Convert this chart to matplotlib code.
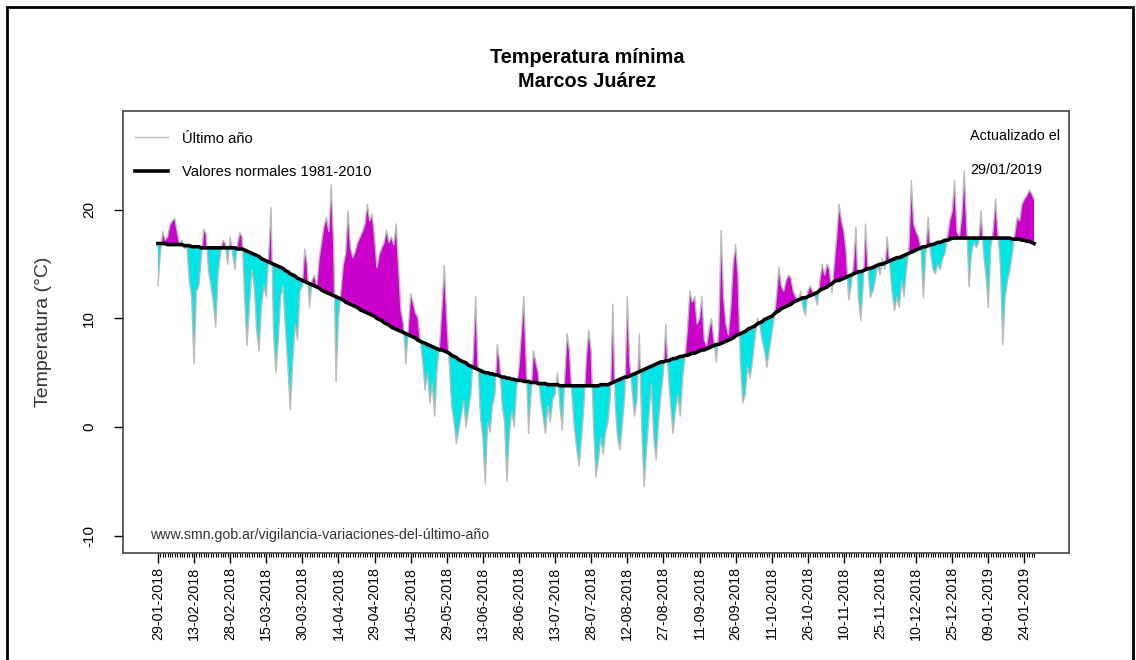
import numpy as np
import pandas as pd
import matplotlib
matplotlib.use('Agg')
import matplotlib.pyplot as plt
from matplotlib.patches import Rectangle

# Temperatura minima diaria, Marcos Juarez, 29-01-2018 a 28-01-2019
start_date = '2018-01-29'
n_days = 365

tmin_last_year = [
    13.0, 16.0, 18.0, 17.2, 17.5, 18.6, 19.0, 19.2, 18.0, 16.8, 17.2, 16.4, 16.8, 13.5, 12.0,
    5.8, 12.5, 13.0, 15.5, 18.2, 17.8, 14.5, 13.0, 11.5, 9.2, 14.0, 16.0, 17.2, 16.9, 15.0,
    17.5, 16.0, 14.5, 16.8, 17.9, 17.5, 12.0, 7.5, 11.0, 14.5, 13.0, 9.0, 7.0, 11.0, 13.0,
    12.0, 15.8, 20.2, 9.0, 5.0, 8.0, 12.0, 13.0, 9.0, 5.5, 1.6, 6.0, 9.5, 8.0, 12.5,
    13.0, 16.4, 15.0, 11.0, 13.5, 14.0, 13.0, 15.5, 17.0, 18.5, 19.3, 18.0, 22.3, 17.0, 4.2,
    10.0, 12.5, 14.9, 16.0, 19.9, 16.5, 15.6, 16.2, 17.0, 17.5, 18.0, 18.7, 20.5, 19.0, 19.6,
    17.5, 14.7, 15.9, 16.5, 17.0, 18.1, 17.0, 17.5, 16.8, 18.7, 14.7, 10.7, 9.5, 5.8, 9.0,
    12.3, 11.5, 10.5, 10.1, 8.0, 6.0, 3.4, 5.0, 2.2, 4.0, 1.0, 5.5, 7.5, 11.0, 14.9,
    10.0, 6.0, 2.0, 0.5, -1.5, -0.3, 1.0, 2.5, 0.0, 1.5, 3.0, 6.5, 12.0, 5.5, 1.0,
    -1.0, -5.2, 0.5, -0.5, 2.0, 3.0, 7.6, 6.0, 2.0, 0.5, -5.0, -0.6, 1.5, 0.0, 3.5,
    5.5, 8.6, 12.0, 6.0, -0.6, 3.0, 7.0, 6.0, 5.0, 2.5, 1.0, -0.6, 2.0, 0.5, 2.5,
    3.0, 5.0, 2.0, -0.3, 4.5, 8.6, 7.0, 3.0, 0.0, -2.0, -3.6, -1.0, 2.0, 6.5, 8.9,
    7.0, 0.0, -4.6, -3.0, -1.0, -2.5, -0.5, 0.5, 3.0, 11.3, 2.0, -1.0, -2.1, 0.5, 3.0,
    12.0, 6.0, 3.5, 1.0, 2.5, 8.6, 0.0, -5.5, -2.0, 1.0, 4.0, -1.0, -3.0, 0.5, 3.0,
    5.0, 9.5, 5.0, 2.0, -0.6, 1.5, 3.0, 1.0, 4.5, 6.5, 9.0, 12.5, 11.5, 12.0, 9.5,
    10.0, 12.0, 8.0, 7.5, 9.0, 10.0, 8.0, 6.0, 9.0, 18.1, 12.0, 9.5, 8.5, 11.0, 15.0,
    16.8, 14.0, 6.0, 2.2, 3.0, 5.5, 4.5, 6.0, 8.0, 10.0, 9.5, 8.0, 7.1, 5.5, 7.0,
    8.5, 10.0, 12.0, 14.7, 13.0, 12.5, 13.5, 14.0, 13.7, 12.5, 12.0, 11.5, 12.5, 11.0, 10.3,
    12.5, 13.0, 12.5, 12.0, 11.2, 13.5, 15.0, 14.0, 15.0, 14.5, 12.3, 15.0, 17.5, 20.5, 19.0,
    18.0, 16.0, 11.7, 13.0, 15.0, 18.4, 12.0, 9.8, 13.0, 18.7, 14.5, 11.9, 12.5, 13.5, 15.0,
    14.0, 15.5, 14.5, 17.5, 15.0, 12.5, 10.7, 12.0, 11.0, 13.5, 12.0, 14.5, 16.5, 22.7, 18.7,
    18.0, 17.5, 16.5, 11.9, 16.0, 19.3, 16.0, 14.5, 14.1, 15.0, 14.5, 15.5, 16.0, 17.5, 19.0,
    19.9, 22.7, 18.0, 17.5, 19.5, 23.6, 18.5, 12.9, 16.0, 17.0, 16.5, 17.0, 19.9, 16.0, 14.0,
    11.0, 16.5, 18.1, 21.0, 17.8, 15.0, 7.6, 12.0, 13.5, 14.5, 16.0, 17.8, 19.3, 19.0, 20.5,
    21.0, 21.3, 21.8, 21.5, 21.0,
]

# Valores normales 1981-2010 para los mismos dias
tmin_normal = [
    16.9, 16.9, 16.9, 16.9, 16.8, 16.8, 16.8, 16.8, 16.8, 16.8, 16.8, 16.7, 16.7, 16.7, 16.6,
    16.6, 16.6, 16.6, 16.5, 16.5, 16.5, 16.5, 16.5, 16.5, 16.5, 16.5, 16.5, 16.5, 16.5, 16.5,
    16.5, 16.5, 16.5, 16.4, 16.4, 16.4, 16.3, 16.2, 16.1, 16.0, 15.9, 15.8, 15.7, 15.5, 15.4,
    15.3, 15.2, 15.1, 15.0, 14.9, 14.8, 14.7, 14.6, 14.4, 14.3, 14.1, 14.0, 13.9, 13.7, 13.6,
    13.5, 13.4, 13.3, 13.2, 13.1, 13.0, 12.9, 12.8, 12.6, 12.5, 12.4, 12.3, 12.2, 12.1, 12.0,
    11.9, 11.8, 11.7, 11.5, 11.4, 11.3, 11.2, 11.1, 11.0, 10.8, 10.7, 10.6, 10.5, 10.4, 10.3,
    10.2, 10.0, 9.9, 9.8, 9.6, 9.5, 9.4, 9.2, 9.1, 9.0, 8.9, 8.8, 8.7, 8.6, 8.5,
    8.4, 8.3, 8.2, 8.0, 7.9, 7.8, 7.7, 7.6, 7.5, 7.4, 7.3, 7.2, 7.1, 7.1, 7.0,
    6.9, 6.8, 6.6, 6.5, 6.4, 6.2, 6.1, 6.0, 5.9, 5.7, 5.6, 5.5, 5.4, 5.3, 5.2,
    5.1, 5.0, 5.0, 4.9, 4.9, 4.8, 4.8, 4.7, 4.6, 4.6, 4.5, 4.5, 4.4, 4.4, 4.3,
    4.3, 4.3, 4.2, 4.2, 4.2, 4.1, 4.1, 4.1, 4.0, 4.0, 4.0, 4.0, 3.9, 3.9, 3.9,
    3.9, 3.9, 3.8, 3.8, 3.8, 3.8, 3.8, 3.8, 3.8, 3.8, 3.8, 3.8, 3.8, 3.8, 3.8,
    3.8, 3.8, 3.8, 3.8, 3.9, 3.9, 3.9, 3.9, 4.0, 4.1, 4.2, 4.3, 4.4, 4.5, 4.6,
    4.6, 4.7, 4.8, 4.9, 5.0, 5.1, 5.2, 5.3, 5.4, 5.5, 5.6, 5.7, 5.8, 5.9, 6.0,
    6.0, 6.1, 6.1, 6.2, 6.3, 6.3, 6.4, 6.5, 6.5, 6.6, 6.6, 6.7, 6.8, 6.8, 6.9,
    7.0, 7.1, 7.1, 7.2, 7.3, 7.4, 7.5, 7.6, 7.6, 7.7, 7.8, 7.9, 8.0, 8.1, 8.2,
    8.4, 8.5, 8.6, 8.7, 8.8, 9.0, 9.1, 9.2, 9.3, 9.5, 9.6, 9.7, 9.9, 10.0, 10.1,
    10.2, 10.4, 10.6, 10.7, 10.9, 11.0, 11.1, 11.2, 11.3, 11.5, 11.6, 11.7, 11.8, 11.9, 11.9,
    12.0, 12.1, 12.2, 12.3, 12.4, 12.6, 12.7, 12.8, 12.9, 13.1, 13.2, 13.4, 13.5, 13.5, 13.6,
    13.7, 13.8, 13.9, 14.0, 14.1, 14.2, 14.3, 14.3, 14.4, 14.5, 14.6, 14.6, 14.7, 14.8, 14.9,
    15.0, 15.0, 15.1, 15.2, 15.3, 15.4, 15.5, 15.6, 15.6, 15.7, 15.8, 15.9, 16.0, 16.1, 16.2,
    16.3, 16.4, 16.5, 16.6, 16.6, 16.7, 16.8, 16.8, 16.9, 17.0, 17.0, 17.1, 17.2, 17.2, 17.3,
    17.4, 17.4, 17.4, 17.4, 17.4, 17.4, 17.4, 17.4, 17.4, 17.4, 17.4, 17.4, 17.4, 17.4, 17.4,
    17.4, 17.4, 17.4, 17.4, 17.4, 17.4, 17.4, 17.4, 17.4, 17.4, 17.3, 17.3, 17.3, 17.3, 17.2,
    17.2, 17.1, 17.1, 17.0, 16.9,
]

label_every = 15
y_ticks = [-10, 0, 10, 20]

title_lines = ['Temperatura mínima', 'Marcos Juárez']
legend_labels = ['Último año', 'Valores normales 1981-2010']
updated_text = ['Actualizado el', '29/01/2019']
source_text = 'www.smn.gob.ar/vigilancia-variaciones-del-último-año'

plt.rcParams['font.family'] = ['Liberation Sans', 'DejaVu Sans']

dates = pd.date_range(start_date, periods=n_days, freq='D')
x = np.arange(n_days)
obs = np.array(tmin_last_year)
nor = np.array(tmin_normal)

fig = plt.figure(figsize=(11.36, 6.6), dpi=100)
ax = fig.add_axes([0.1083, 0.1621, 0.8327, 0.6697])

# anomalias: arriba de lo normal en magenta, abajo en cian
ax.fill_between(x, obs, nor, where=obs >= nor, interpolate=True,
                color='#cc00cc', linewidth=0)
ax.fill_between(x, obs, nor, where=obs < nor, interpolate=True,
                color='#00e5e5', linewidth=0)
l1, = ax.plot(x, obs, color='#bbbbbb', lw=1.0)
l2, = ax.plot(x, nor, color='black', lw=2.6)

ax.set_xlim(-14.5, 378.5)
ax.set_ylim(-11.6, 29.1)

major = x[::label_every]
ax.set_xticks(major)
ax.set_xticklabels([d.strftime('%d-%m-%Y') for d in dates[::label_every]],
                   rotation=90, fontsize=10.3)
ax.set_xticks(x, minor=True)
ax.tick_params(axis='x', which='major', length=7.5, width=1, pad=2.5)
ax.tick_params(axis='x', which='minor', length=3, width=0.8)

ax.set_yticks(y_ticks)
ax.set_yticklabels([str(v) for v in y_ticks], rotation=90, va='center', fontsize=11)
ax.tick_params(axis='y', length=6.5, width=1, pad=13)
ax.set_ylabel('Temperatura (°C)', fontsize=14, color='#333333')
ax.yaxis.set_label_coords(-0.075, 0.5)

for s in ax.spines.values():
    s.set_linewidth(1.2)
    s.set_color('#444444')

ax.legend([l1, l2], legend_labels, loc='upper left', frameon=False,
          bbox_to_anchor=(0.0127, 0.9536), borderaxespad=0, borderpad=0,
          fontsize=10.6, handlelength=2.25, labelspacing=1.3,
          handletextpad=0.95)

ax.text(0.8953, 0.9434, updated_text[0], transform=ax.transAxes, fontsize=10.4, va='center')
ax.text(0.8953, 0.8665, updated_text[1], transform=ax.transAxes, fontsize=10.4, va='center')
ax.text(0.0285, 0.0407, source_text, transform=ax.transAxes, fontsize=10.2, va='center',
        color='#333333')

fig.text(0.517, 0.9136, title_lines[0], ha='center', va='center',
         fontsize=14.3, fontweight='bold')
fig.text(0.517, 0.8758, title_lines[1], ha='center', va='center',
         fontsize=14.3, fontweight='bold')

# marco exterior
fig.patches.append(Rectangle((7 / 1136, -0.05), 1126 / 1136, 1.05 - 7 / 660,
                             transform=fig.transFigure, fill=False,
                             edgecolor='black', lw=2))

fig.savefig('out.png', dpi=100)
